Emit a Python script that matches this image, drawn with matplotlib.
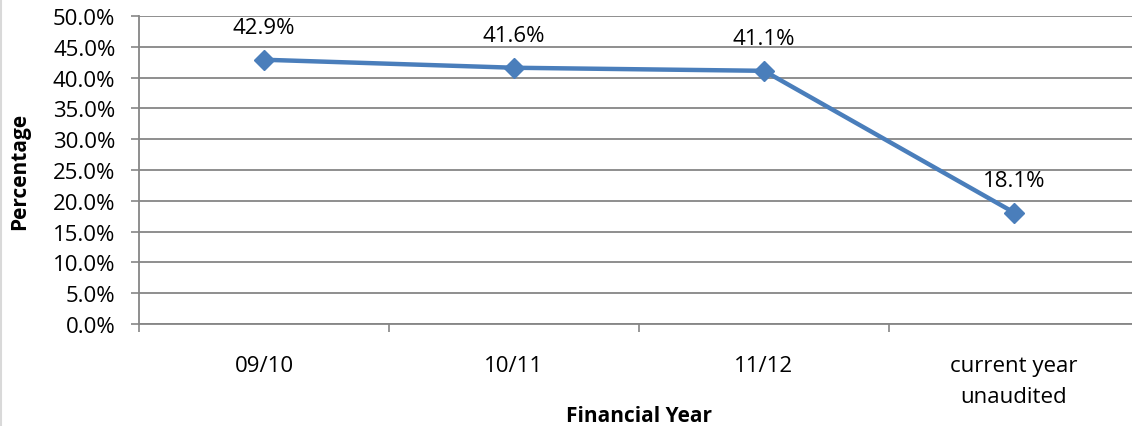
import matplotlib.pyplot as plt
from matplotlib.lines import Line2D
from matplotlib.ticker import FixedLocator, NullFormatter

# Data
years = ["09/10", "10/11", "11/12", "current year\nunaudited"]
pct = [42.9, 41.6, 41.1, 18.1]
yticks = [0, 5, 10, 15, 20, 25, 30, 35, 40, 45, 50]

plt.rcParams['font.family'] = ['Open Sans', 'DejaVu Sans']

fig = plt.figure(figsize=(11.32, 4.27), dpi=100)
# plot area runs slightly past the right edge, like the original
ax = fig.add_axes([139 / 1132, 102 / 427, 1000 / 1132, 308 / 427])

grid_col = "#868686"
line_col = "#4A7EBB"
fs = 16

x = list(range(len(years)))
ax.plot(x, pct, color=line_col, lw=3.2, marker="D", ms=10,
        mfc=line_col, mec=line_col, zorder=3, clip_on=False)

for xi, v in zip(x, pct):
    ax.annotate(f"{v:.1f}%", (xi, v), xytext=(0, 23), textcoords="offset points",
                ha="center", va="center", fontsize=fs, color="black")

ax.set_xlim(-0.5, len(years) - 0.5)
ax.set_ylim(0, 50)
ax.set_yticks(yticks)
ax.set_yticklabels([f"{t:.1f}%" for t in yticks])

# category boundaries as major ticks, names on minor ticks
ax.xaxis.set_major_locator(FixedLocator([i - 0.5 for i in range(len(years) + 1)]))
ax.xaxis.set_major_formatter(NullFormatter())
ax.xaxis.set_minor_locator(FixedLocator(x))
ax.set_xticklabels(years, minor=True, linespacing=1.65)
ax.tick_params(axis="x", which="major", length=6, width=1.2, color=grid_col)
ax.tick_params(axis="x", which="minor", length=0, pad=22, labelsize=fs)
ax.tick_params(axis="y", length=6, width=1.2, color=grid_col, pad=11, labelsize=fs)

ax.grid(axis="y", color=grid_col, lw=1.3)
ax.set_axisbelow(True)
for s in ["top", "right"]:
    ax.spines[s].set_visible(False)
for s in ["left", "bottom"]:
    ax.spines[s].set_color(grid_col)
    ax.spines[s].set_linewidth(1.3)

ax.set_ylabel("Percentage", fontsize=15, fontweight="bold")
ax.set_xlabel("Financial Year", fontsize=15, fontweight="bold")
ax.yaxis.set_label_coords(-0.109, 0.5)
ax.xaxis.set_label_coords(0.5, -0.262)

fig.add_artist(Line2D([0.001, 0.001], [0, 1], transform=fig.transFigure,
                      color="#d9d9d9", lw=1.5))

fig.savefig("out.png", dpi=100)
